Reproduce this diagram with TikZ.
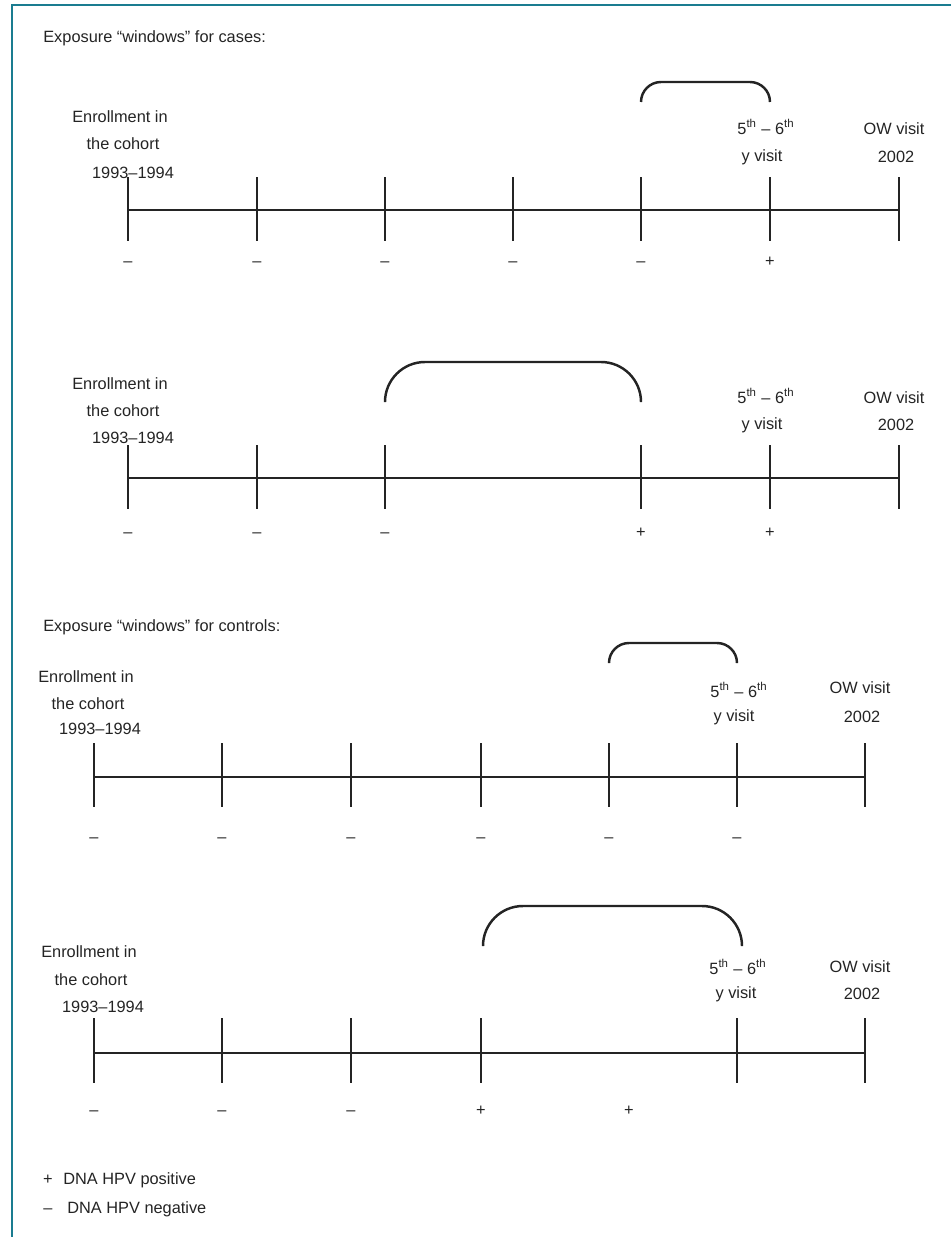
\documentclass[tikz,border=0pt]{standalone}
\usepackage{fontspec}
\setmainfont{Liberation Sans}
\usepackage{tikz}
\usetikzlibrary{positioning,calc}
\definecolor{boxTeal}{RGB}{26,124,144}
\definecolor{inkGray}{RGB}{36,36,36}

\begin{document}
\begin{tikzpicture}[x=0.02cm, y=-0.02cm,
    lbl/.style={font=\fontsize{9.3}{11}\selectfont, inner sep=0pt, anchor=base, text=inkGray},
    sign/.style={lbl},
    axis/.style={inkGray, line width=0.8pt},
    tick/.style={inkGray, line width=0.8pt},
    window/.style={inkGray, line width=1.4pt, rounded corners=#1}]
    \useasboundingbox (0,0) rectangle (951,1237);

    % Frame
    \draw[boxTeal, line width=1.3pt] (951,5) -- (12,5) -- (12,1237);

    % Cases
    \node[lbl, anchor=base west] (casesTitle) at (43,43) {Exposure “windows” for cases:};

    % Cases, first line
    \foreach \x [count=\i] in {128,257,385,513,641,770,899}
        \coordinate (a\i) at (\x,210);
    \draw[axis] (a1) -- (a7);
    \foreach \i in {1,...,7}
        \draw[tick] (a\i) ++(0,-33) -- ++(0,64);
    \foreach \x/\s [count=\i] in {128/\textendash,257/\textendash,385/\textendash,513/\textendash,641/\textendash,770/+}
        \node[sign] (a\i s) at (\x,266) {\s};
    \coordinate (aWl) at (641,102);
    \coordinate (aWr) at (770,102);
    \draw[window=0.4cm] (aWl) -- ++(0,-20) -| (aWr);
    \node[lbl] (aEnr) at (120,123) {Enrollment in};
    \node[lbl] (aCoh) at (123,150) {the cohort};
    \node[lbl] (aYr) at (133,178) {1993--1994};
    \node[lbl] (aVis) at (766,134) {5\textsuperscript{th} -- 6\textsuperscript{th}};
    \node[lbl] (aVis2) at (762,161) {y visit};
    \node[lbl] (aOw) at (894,134) {OW visit};
    \node[lbl] (aOw2) at (896,162) {2002};

    % Cases, second line
    \foreach \x [count=\i] in {128,257,385,641,770,899}
        \coordinate (b\i) at (\x,478);
    \draw[axis] (b1) -- (b6);
    \foreach \i in {1,...,6}
        \draw[tick] (b\i) ++(0,-33) -- ++(0,64);
    \foreach \x/\s [count=\i] in {128/\textendash,257/\textendash,385/\textendash,641/+,770/+}
        \node[sign] (b\i s) at (\x,537) {\s};
    \coordinate (bWl) at (385,402);
    \coordinate (bWr) at (641,402);
    \draw[window=0.8cm] (bWl) -- ++(0,-40) -| (bWr);
    \node[lbl] (bEnr) at (120,389) {Enrollment in};
    \node[lbl] (bCoh) at (123,416) {the cohort};
    \node[lbl] (bYr) at (133,443) {1993--1994};
    \node[lbl] (bVis) at (766,403) {5\textsuperscript{th} -- 6\textsuperscript{th}};
    \node[lbl] (bVis2) at (762,429) {y visit};
    \node[lbl] (bOw) at (894,403) {OW visit};
    \node[lbl] (bOw2) at (896,430) {2002};

    % Controls
    \node[lbl, anchor=base west] (controlsTitle) at (43,631) {Exposure “windows” for controls:};

    % Controls, first line
    \foreach \x [count=\i] in {94,222,351,481,609,737,865}
        \coordinate (c\i) at (\x,777);
    \draw[axis] (c1) -- (c7);
    \foreach \i in {1,...,7}
        \draw[tick] (c\i) ++(0,-34) -- ++(0,64);
    \foreach \x/\s [count=\i] in {94/\textendash,222/\textendash,351/\textendash,481/\textendash,609/\textendash,737/\textendash}
        \node[sign] (c\i s) at (\x,842) {\s};
    \coordinate (cWl) at (609,663);
    \coordinate (cWr) at (737,663);
    \draw[window=0.4cm] (cWl) -- ++(0,-20) -| (cWr);
    \node[lbl] (cEnr) at (86,682) {Enrollment in};
    \node[lbl] (cCoh) at (88,709) {the cohort};
    \node[lbl] (cYr) at (100,734) {1993--1994};
    \node[lbl] (cVis) at (739,697) {5\textsuperscript{th} -- 6\textsuperscript{th}};
    \node[lbl] (cVis2) at (734,721) {y visit};
    \node[lbl] (cOw) at (860,693) {OW visit};
    \node[lbl] (cOw2) at (862,722) {2002};

    % Controls, second line
    \foreach \x [count=\i] in {94,222,351,481,737,865}
        \coordinate (d\i) at (\x,1053);
    \draw[axis] (d1) -- (d6);
    \foreach \i in {1,...,6}
        \draw[tick] (d\i) ++(0,-35) -- ++(0,65);
    \foreach \x/\s [count=\i] in {94/\textendash,222/\textendash,351/\textendash,481/+,629/+}
        \node[sign] (d\i s) at (\x,1115) {\s};
    \coordinate (dWl) at (483,946);
    \coordinate (dWr) at (742,946);
    \draw[window=0.8cm] (dWl) -- ++(0,-40) -| (dWr);
    \node[lbl] (dEnr) at (89,957) {Enrollment in};
    \node[lbl] (dCoh) at (91,985) {the cohort};
    \node[lbl] (dYr) at (103,1012) {1993--1994};
    \node[lbl] (dVis) at (738,974) {5\textsuperscript{th} -- 6\textsuperscript{th}};
    \node[lbl] (dVis2) at (736,998) {y visit};
    \node[lbl] (dOw) at (860,972) {OW visit};
    \node[lbl] (dOw2) at (862,999) {2002};

    % Legend
    \node[sign] (keyPos) at (48,1184) {+};
    \node[lbl, anchor=base west] (keyPosTxt) at (63,1184) {DNA HPV positive};
    \node[sign] (keyNeg) at (48,1213) {\textendash};
    \node[lbl, anchor=base west] (keyNegTxt) at (67,1213) {DNA HPV negative};
\end{tikzpicture}
\end{document}
